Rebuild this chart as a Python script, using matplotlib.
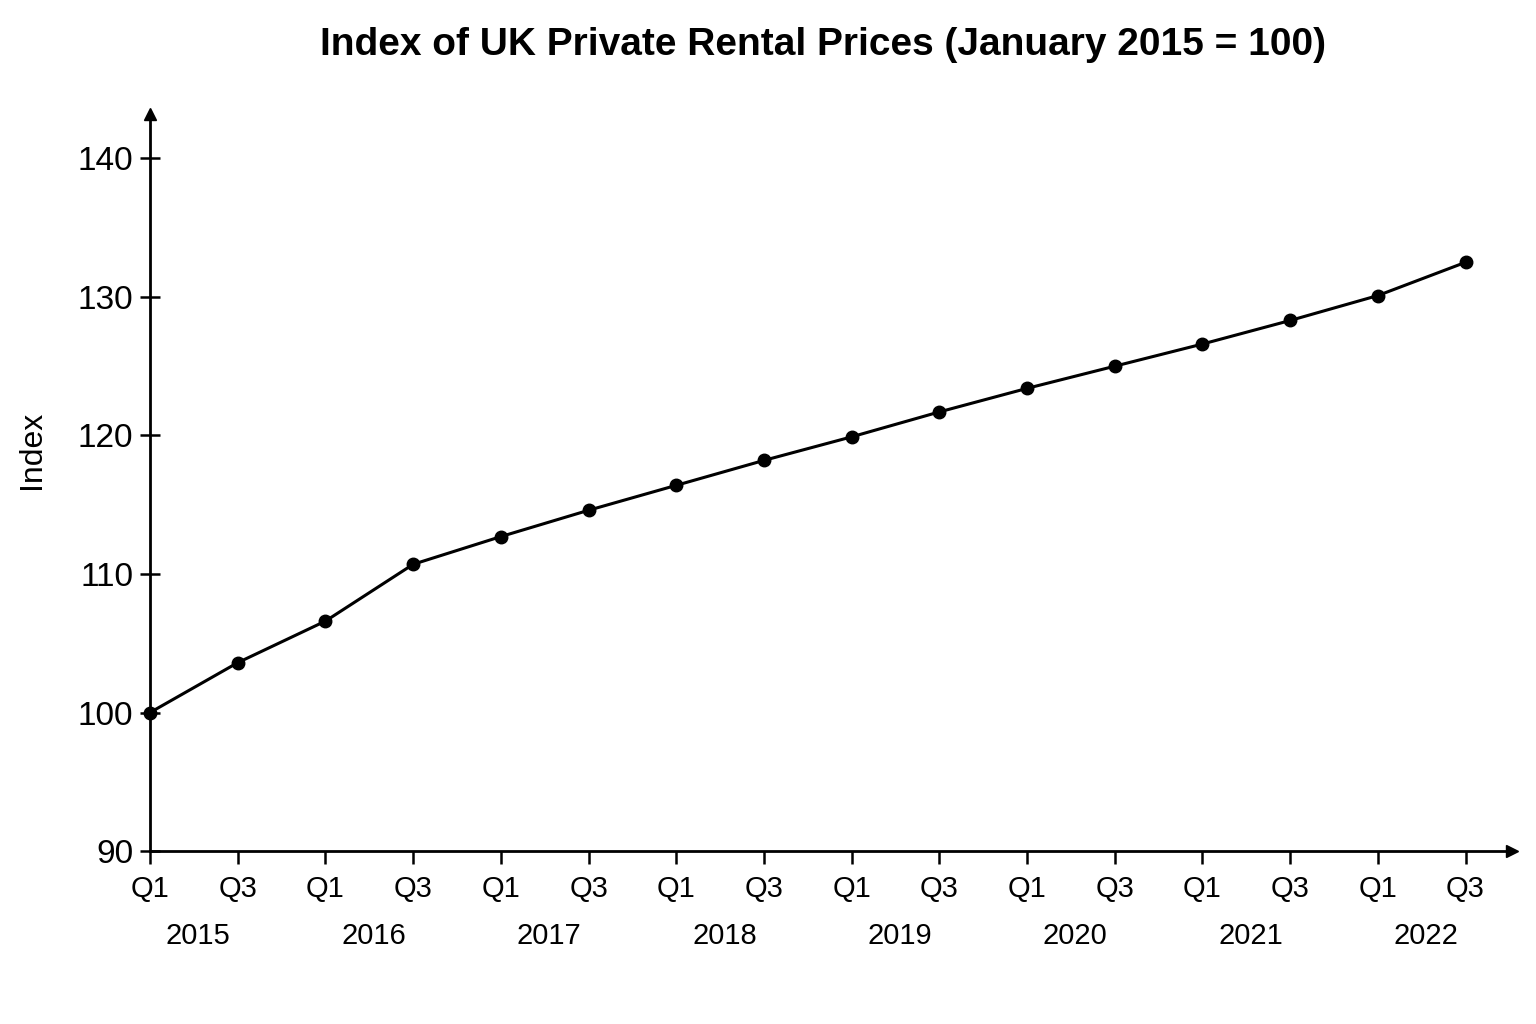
import matplotlib.pyplot as plt

plt.rcParams['font.family'] = ['Liberation Sans', 'DejaVu Sans']

# quarterly index values, Q1 2015 .. Q3 2022
quarters = ["Q1", "Q3"] * 8
years = ["2015", "2016", "2017", "2018", "2019", "2020", "2021", "2022"]
index_values = [100.0, 103.6, 106.6, 110.7, 112.7, 114.6, 116.4, 118.2,
                119.9, 121.7, 123.4, 125.0, 126.6, 128.3, 130.1, 132.5]
y_ticks = [90, 100, 110, 120, 130, 140]

x = list(range(len(index_values)))

fig = plt.figure(figsize=(15.36, 10.24), dpi=100)
ax = fig.add_axes([0.0977, 0.1689, 0.8867, 0.7197])

ax.plot(x, index_values, color="black", linewidth=2.2, marker="o",
        markersize=9, clip_on=False, zorder=3)

ax.set_xlim(0, 15.53)
ax.set_ylim(90, 143.2)

ax.spines["top"].set_visible(False)
ax.spines["right"].set_visible(False)
ax.spines["left"].set_linewidth(2)
ax.spines["bottom"].set_linewidth(2)

# arrow heads at the ends of the axes
ax.plot(1, 0, ">k", transform=ax.transAxes, clip_on=False, markersize=9)
ax.plot(0, 1, "^k", transform=ax.transAxes, clip_on=False, markersize=9)

ax.set_yticks(y_ticks)
ax.set_yticklabels([str(v) for v in y_ticks], fontsize=24)
ax.tick_params(axis="y", direction="inout", length=14, width=1.8, pad=5)

ax.set_xticks(x)
ax.set_xticklabels(quarters, fontsize=21)
ax.tick_params(axis="x", direction="out", length=9, width=1.8, pad=8)

# year labels under each pair of quarters
for i, yr in enumerate(years):
    ax.text(2 * i + 0.55, -0.115, yr, transform=ax.get_xaxis_transform(),
            ha="center", va="center", fontsize=21)

ax.set_ylabel("Index", fontsize=23)
ax.yaxis.set_label_coords(-0.076, 0.544)

fig.text(0.536, 0.956, "Index of UK Private Rental Prices (January 2015 = 100)",
         ha="center", va="center", fontsize=28, fontweight="bold")

plt.savefig("out.png", dpi=100)
